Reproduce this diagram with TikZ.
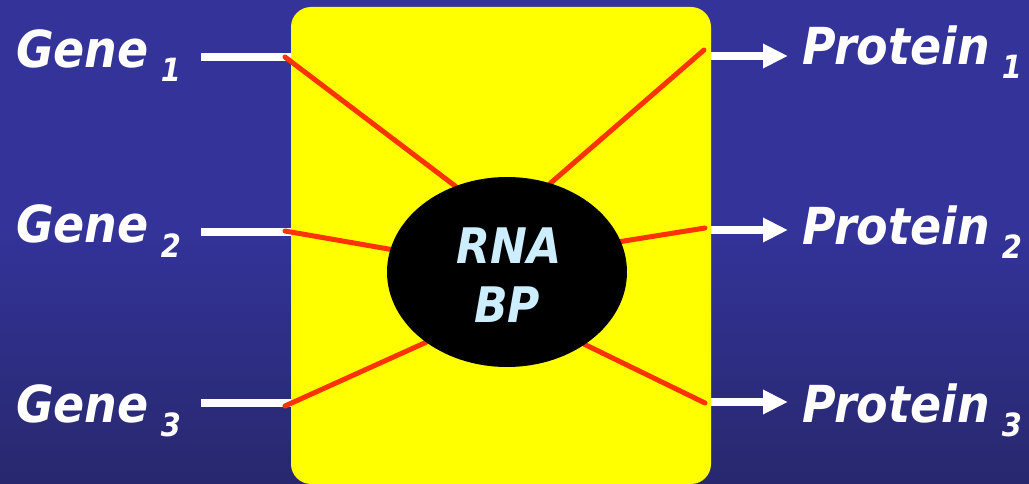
\documentclass[tikz,border=0pt]{standalone}
\usepackage{fontspec}
\newfontfamily\lbl{DejaVu Sans Condensed}
\usetikzlibrary{arrows.meta,shapes.geometric}
\definecolor{bgblue}{HTML}{333399}
\definecolor{bgdark}{HTML}{28286E}
\definecolor{boxyellow}{HTML}{FFFF00}
\definecolor{linkred}{HTML}{FF3300}
\definecolor{rnablue}{HTML}{CCEEFF}
\tikzset{
  x=1pt, y=-1pt,
  box/.style={fill=boxyellow, rounded corners=20pt, minimum width=420pt, minimum height=477pt, inner sep=0pt, outer sep=0pt},
  core/.style={ellipse, fill=black, minimum width=240pt, minimum height=190pt, inner sep=0pt, outer sep=0pt},
  wline/.style={draw=white, line width=8pt},
  warrow/.style={draw=white, line width=8pt, -{Triangle[length=25pt,width=23pt]}},
  link/.style={draw=linkred, line width=5pt, line cap=round},
  lab/.style={anchor=base west, inner sep=0pt, text=white, font=\lbl\bfseries\itshape\fontsize{51}{51}\selectfont},
  rnatext/.style={anchor=base, inner sep=0pt, text=rnablue, font=\lbl\bfseries\itshape\fontsize{49}{49}\selectfont},
}
\newcommand{\subs}[1]{\hspace{12pt}\raisebox{-14pt}{\fontsize{32}{32}\selectfont #1}}
\begin{document}
\begin{tikzpicture}
\useasboundingbox (0,0) rectangle (1029,484);
% background
\fill[bgblue] (0,0) rectangle (1029,484);
\shade[top color=bgblue, bottom color=bgdark] (0,230) rectangle (1029,484);
% yellow box
\node[box] (box) at (501,245.5) {};
% gene inputs
\coordinate (g1) at (201,57);
\coordinate (g2) at (201,232);
\coordinate (g3) at (201,403);
\draw[wline] (g1) -- (g1 -| box.west);
\draw[wline] (g2) -- (g2 -| box.west);
\draw[wline] (g3) -- (g3 -| box.west);
% protein outputs
\coordinate (p1s) at (711,56);
\coordinate (p2s) at (711,230);
\coordinate (p3s) at (711,402);
\coordinate (p1e) at (788,56);
\coordinate (p2e) at (788,230);
\coordinate (p3e) at (788,402);
\draw[warrow] (p1s) -- (p1e);
\draw[warrow] (p2s) -- (p2e);
\draw[warrow] (p3s) -- (p3e);
% red links
\path node[core, fill=none] (rnaref) at (507,272) {};
\coordinate (l1) at (285,57);
\coordinate (l2) at (285,231);
\coordinate (l3) at (285,406);
\coordinate (r1) at (704,50);
\coordinate (r2) at (705,228);
\coordinate (r3) at (705,403);
\draw[link] (l1) -- (rnaref.121);
\draw[link] (l2) -- (rnaref.169);
\draw[link] (l3) -- (rnaref.221);
\draw[link] (r1) -- (rnaref.64);
\draw[link] (r2) -- (rnaref.15);
\draw[link] (r3) -- (rnaref.-43);
% RNA BP core
\node[core] (rna) at (507,272) {};
\node[rnatext] (rnat1) at (509,263) {RNA};
\node[rnatext] (rnat2) at (507,322) {BP};
% labels
\node[lab] (gene1) at (16,68) {Gene\subs{1}};
\node[lab] (gene2) at (16,243) {Gene\subs{2}};
\node[lab] (gene3) at (16,422) {Gene\subs{3}};
\node[lab] (prot1) at (802,65) {Protein\subs{1}};
\node[lab] (prot2) at (802,244) {Protein\subs{2}};
\node[lab] (prot3) at (802,422) {Protein\subs{3}};
\end{tikzpicture}
\end{document}
